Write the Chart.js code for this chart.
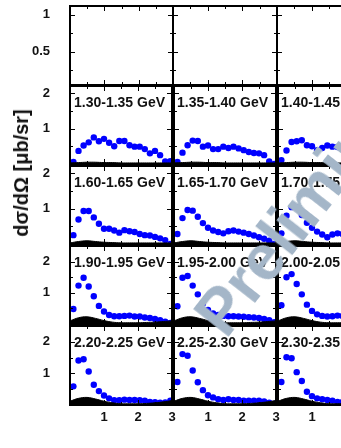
<!DOCTYPE html>
<html><head><meta charset="utf-8">
<script src="https://cdn.jsdelivr.net/npm/chart.js@4.4.1/dist/chart.umd.min.js"></script>
<style>
html,body{margin:0;padding:0;background:#fff;overflow:hidden;width:341px;height:448px;}
#wrap{position:relative;width:341px;height:448px;overflow:hidden;font-family:"Liberation Sans",Arial,sans-serif;}
canvas{position:absolute;}
.lbl{position:absolute;font-weight:bold;font-size:14px;line-height:14px;color:#111;white-space:nowrap;z-index:5;}
#ytitle{position:absolute;left:21px;top:173px;font-weight:bold;font-size:20px;line-height:20px;color:#111;white-space:nowrap;transform:translate(-50%,-50%) rotate(-90deg);z-index:5;}
#wm{position:absolute;left:226px;top:340px;font-weight:bold;font-size:64px;line-height:64px;color:rgb(164,182,200);white-space:nowrap;transform-origin:0 0;transform:rotate(-52deg) translateY(-54px);z-index:10;}
</style></head><body>
<div id="wrap">
<div id="ytitle">dσ/dΩ [μb/sr]</div>
<div id="wm">Preliminary</div>
</div>
<script>
// ---- data ----
const angleX = [0.1, 0.25, 0.4, 0.55, 0.7, 0.85, 1.0, 1.15, 1.3, 1.45, 1.6, 1.75, 1.9, 2.05, 2.2, 2.35, 2.5, 2.65, 2.8, 2.95];
const bandX = [0, 0.25, 0.5, 0.75, 1.0, 1.25, 1.5, 1.75, 2.0, 2.25, 2.5, 2.75, 3.0];

const binLabels = [
  [null, null, null],
  ["1.30-1.35 GeV", "1.35-1.40 GeV", "1.40-1.45 GeV"],
  ["1.60-1.65 GeV", "1.65-1.70 GeV", "1.70-1.75 GeV"],
  ["1.90-1.95 GeV", "1.95-2.00 GeV", "2.00-2.05 GeV"],
  ["2.20-2.25 GeV", "2.25-2.30 GeV", "2.30-2.35 GeV"]
];

const xs130 = [0.06, 0.37, 0.52, 0.61, 0.75, 0.64, 0.71, 0.60, 0.50, 0.65, 0.65, 0.53, 0.49, 0.49, 0.42, 0.30, 0.37, 0.25, 0.07, 0.08];
const xs135 = [0.06, 0.32, 0.53, 0.66, 0.65, 0.49, 0.52, 0.42, 0.42, 0.49, 0.45, 0.49, 0.44, 0.39, 0.34, 0.31, 0.30, 0.25, 0.07, 0.00];
const xs140 = [0.11, 0.38, 0.62, 0.64, 0.67, 0.53, 0.50, 0.39, 0.45, 0.52, 0.49, 0.48, 0.45];
const xs160 = [0.25, 0.69, 0.93, 0.93, 0.75, 0.57, 0.43, 0.43, 0.38, 0.32, 0.39, 0.36, 0.34, 0.28, 0.25, 0.24, 0.20, 0.16, 0.11, 0.00];
const xs165 = [0.28, 0.73, 0.96, 0.94, 0.77, 0.59, 0.46, 0.38, 0.34, 0.30, 0.36, 0.38, 0.35, 0.32, 0.28, 0.24, 0.19, 0.15, 0.09, 0.00];
const xs170 = [0.30, 0.80, 1.04, 1.04, 0.82, 0.60, 0.46, 0.35, 0.27, 0.19, 0.27, 0.30, 0.28];
const xs190 = [0.48, 1.23, 1.48, 1.20, 0.89, 0.58, 0.40, 0.29, 0.25, 0.25, 0.26, 0.27, 0.24, 0.24, 0.21, 0.19, 0.16, 0.12, 0.07, 0.03];
const xs195 = [0.57, 1.48, 1.54, 1.23, 0.95, 0.66, 0.45, 0.34, 0.29, 0.26, 0.25, 0.25, 0.24, 0.23, 0.22, 0.21, 0.19, 0.16, 0.12, 0.06];
const xs200 = [0.60, 1.50, 1.60, 1.28, 0.95, 0.62, 0.42, 0.31, 0.26, 0.24, 0.25, 0.27, 0.26];
const xs220 = [0.59, 1.41, 1.45, 1.06, 0.64, 0.44, 0.30, 0.21, 0.15, 0.15, 0.17, 0.16, 0.16, 0.15, 0.14, 0.10, 0.09, 0.07, 0.08, 0.14];
const xs225 = [0.73, 1.61, 1.56, 1.09, 0.72, 0.47, 0.31, 0.24, 0.18, 0.16, 0.18, 0.16, 0.16, 0.14, 0.14, 0.14, 0.14, 0.11, 0.07, 0.04];
const xs230 = [0.73, 1.51, 1.48, 1.04, 0.76, 0.42, 0.28, 0.21, 0.18, 0.16, 0.14, 0.10, 0.10];

const sysRow2 = [0.03, 0.04, 0.05, 0.05, 0.04, 0.04, 0.03, 0.03, 0.03, 0.03, 0.03, 0.03, 0.03];
const sysRow3 = [0.03, 0.07, 0.09, 0.07, 0.05, 0.04, 0.03, 0.03, 0.03, 0.03, 0.03, 0.03, 0.03];
const sysRow4 = [0.10, 0.20, 0.23, 0.18, 0.11, 0.06, 0.04, 0.04, 0.04, 0.05, 0.06, 0.08, 0.10];
const sysRow5 = [0.12, 0.21, 0.24, 0.19, 0.12, 0.07, 0.04, 0.04, 0.04, 0.05, 0.07, 0.10, 0.14];

const panelSeries = [
  [null, null, null],
  [xs130, xs135, xs140],
  [xs160, xs165, xs170],
  [xs190, xs195, xs200],
  [xs220, xs225, xs230]
];
const rowSys = [null, sysRow2, sysRow3, sysRow4, sysRow5];

const xTickLabels = [1, 2, 3];
const yTickLabels = [[0.5, 1], [1, 2], [1, 2], [1, 2], [1, 2]];
const yMin = [0.05, 0, 0, 0, 0];
const yMax = [1.12, 2.2, 2.2, 2.5, 2.5];
const xMarks = [0.5, 1, 1.5, 2, 2.5];
const yMarks = [[0.25, 0.5, 0.75, 1], [0.5, 1, 1.5, 2], [0.5, 1, 1.5, 2], [0.5, 1, 1.5, 2], [0.5, 1, 1.5, 2]];

// ---- layout ----
const colLeft = [70, 173, 277];
const colWidth = [103, 104, 104];
const rowTop = [6, 85, 165, 245, 325];
const rowHeight = [79, 80, 80, 80, 80];
const PAD = 3, AXW = 70, AXH = 43;
const FONT = "'Liberation Sans', Arial, sans-serif";

const framePlugin = {
  id: 'frame',
  afterDatasetsDraw(chart) {
    const {ctx, chartArea: a, scales: {x, y}} = chart;
    const r = chart.options.plugins.frame.row;
    ctx.save();
    ctx.strokeStyle = '#000';
    ctx.lineWidth = 1;
    ctx.beginPath();
    for (const v of xMarks) {
      const px = Math.round(x.getPixelForValue(v)) + 0.5;
      const len = Number.isInteger(v) ? 5 : 3;
      ctx.moveTo(px, a.bottom); ctx.lineTo(px, a.bottom - len);
      ctx.moveTo(px, a.top); ctx.lineTo(px, a.top + len);
    }
    for (const v of yMarks[r]) {
      const py = Math.round(y.getPixelForValue(v)) + 0.5;
      const len = yTickLabels[r].includes(v) ? 5 : 3;
      ctx.moveTo(a.left, py); ctx.lineTo(a.left + len, py);
      ctx.moveTo(a.right, py); ctx.lineTo(a.right - len, py);
    }
    ctx.stroke();
    ctx.lineWidth = 2;
    ctx.strokeRect(a.left, a.top, a.right - a.left, a.bottom - a.top);
    ctx.restore();
  }
};

const wrap = document.getElementById('wrap');
for (let r = 0; r < 5; r++) {
  for (let c = 0; c < 3; c++) {
    const hasY = c === 0, hasX = r === 4;
    const left = colLeft[c] - (hasY ? AXW : PAD);
    const top = rowTop[r] - PAD;
    const w = colWidth[c] + (hasY ? AXW : PAD) + PAD;
    const h = rowHeight[r] + PAD + (hasX ? AXH : PAD);
    const cv = document.createElement('canvas');
    cv.width = w; cv.height = h;
    cv.style.left = left + 'px'; cv.style.top = top + 'px';
    cv.style.width = w + 'px'; cv.style.height = h + 'px';
    wrap.appendChild(cv);

    const datasets = [];
    const vals = panelSeries[r][c];
    if (vals) {
      const sys = rowSys[r];
      datasets.push({
        type: 'line',
        data: bandX.map((xv, i) => ({x: xv, y: sys[i]})),
        fill: 'origin', backgroundColor: '#000', borderColor: '#000', borderWidth: 1,
        pointRadius: 0, tension: 0.4, order: 0, clip: 0
      });
      datasets.push({
        type: 'scatter',
        data: vals.map((v, i) => ({x: angleX[i], y: v})),
        pointRadius: 3.2, pointBackgroundColor: '#0000ff', pointBorderColor: '#0000ff',
        pointBorderWidth: 0, order: 1, clip: 1
      });
    }

    new Chart(cv, {
      type: 'scatter',
      data: {datasets},
      plugins: [framePlugin],
      options: {
        responsive: false, animation: false, devicePixelRatio: 1,
        layout: {padding: {left: hasY ? 0 : PAD, right: PAD, top: PAD, bottom: hasX ? 0 : PAD}},
        plugins: {legend: {display: false}, tooltip: {enabled: false}, frame: {row: r}},
        scales: {
          x: {
            type: 'linear', min: 0, max: 3, display: hasX,
            grid: {display: false, drawTicks: false}, border: {display: false},
            afterBuildTicks: s => { s.ticks = xTickLabels.map(v => ({value: v})); },
            ticks: {font: {family: FONT, size: 13, weight: 'bold'}, color: '#111', padding: 5, maxRotation: 0, autoSkip: false, callback: v => String(v)},
            afterFit: s => { if (hasX) { s.height = AXH; s.paddingLeft = 0; s.paddingRight = 0; } }
          },
          y: {
            type: 'linear', min: yMin[r], max: yMax[r], display: hasY,
            grid: {display: false, drawTicks: false}, border: {display: false},
            afterBuildTicks: s => { s.ticks = yTickLabels[r].map(v => ({value: v})); },
            ticks: {font: {family: FONT, size: 13, weight: 'bold'}, color: '#111', padding: 20, autoSkip: false, callback: v => String(v)},
            afterFit: s => { if (hasY) { s.width = AXW; s.paddingTop = 0; s.paddingBottom = 0; } }
          }
        }
      }
    });

    if (binLabels[r][c]) {
      const d = document.createElement('div');
      d.className = 'lbl';
      d.textContent = binLabels[r][c];
      d.style.left = (colLeft[c] + 4) + 'px';
      d.style.top = (rowTop[r] + 10) + 'px';
      wrap.appendChild(d);
    }
  }
}
</script>
</body></html>
